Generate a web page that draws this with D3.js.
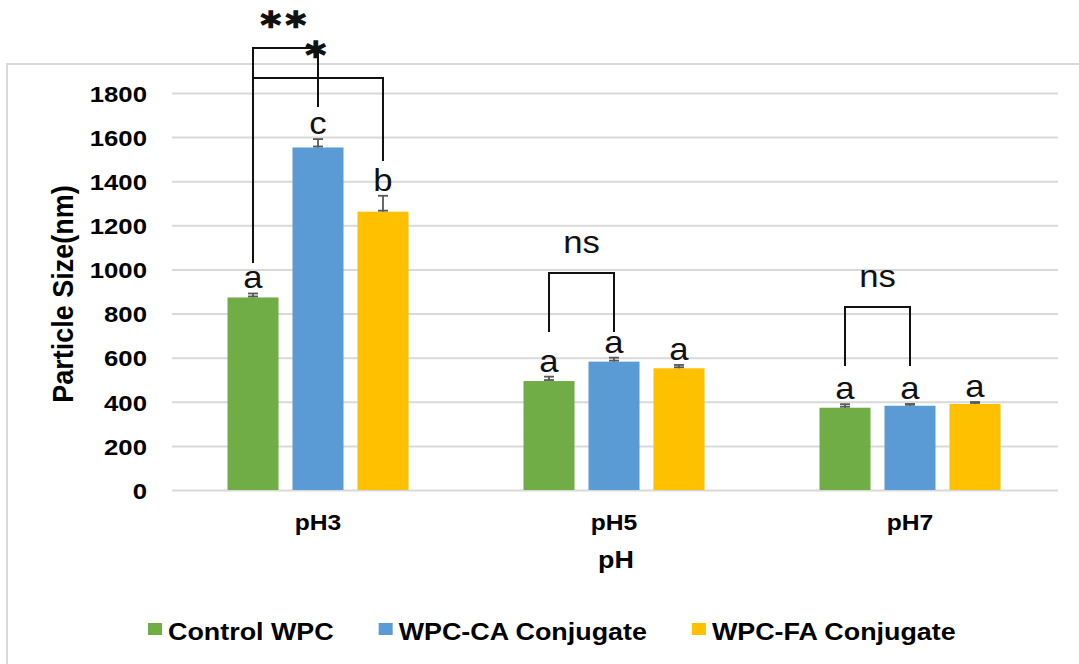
<!DOCTYPE html>
<html>
<head>
<meta charset="utf-8">
<script src="https://cdn.jsdelivr.net/npm/d3@7"></script>
<style>
  html, body { margin: 0; padding: 0; background: #ffffff; }
  svg { display: block; font-family: "Liberation Sans", Arial, sans-serif; }
</style>
</head>
<body>
<svg id="chart" width="1079" height="664"></svg>
<script>
// ---- data ----
const categories = ["pH3", "pH5", "pH7"];
const seriesNames = ["Control WPC", "WPC-CA Conjugate", "WPC-FA Conjugate"];
const controlWPC = [873, 494, 373];
const wpcCA = [1553, 582, 382];
const wpcFA = [1262, 552, 390];
const controlErr = [18, 20, 16];
const wpcCAErr = [38, 18, 8];
const wpcFAErr = [72, 15, 9];
const controlLetters = ["a", "a", "a"];
const wpcCALetters = ["c", "a", "a"];
const wpcFALetters = ["b", "a", "a"];
const yTicks = [0, 200, 400, 600, 800, 1000, 1200, 1400, 1600, 1800];
// significance brackets: group, series indices, bar level, leg ends (nm scale)
const bracketGroups = ["pH3", "pH3", "pH5", "pH7"];
const bracketPairs = [[0, 1], [0, 2], [0, 1], [0, 1]];
const bracketTops = [2004, 1868, 984, 830];
const bracketLegs = [[1029, 1737], [1029, 1492], [716, 716], [562, 562]];
const bracketLabels = ["**", "*", "ns", "ns"];

const colors = ["#70AD47", "#5B9BD5", "#FFC000"];
const SX = 1.12; // horizontal text stretch

const values = [controlWPC, wpcCA, wpcFA];
const errs = [controlErr, wpcCAErr, wpcFAErr];
const letters = [controlLetters, wpcCALetters, wpcFALetters];

const rows = [];
categories.forEach((c, ci) => {
  seriesNames.forEach((s, si) => {
    rows.push({cat: c, series: s, si, value: values[si][ci], err: errs[si][ci], letter: letters[si][ci]});
  });
});

const svg = d3.select("#chart");

// outer frame
svg.append("rect")
  .attr("x", 7).attr("y", 64).attr("width", 1100).attr("height", 700)
  .attr("fill", "none").attr("stroke", "#d9d9d9").attr("stroke-width", 2);

const plotLeft = 170, plotRight = 1058;
const y = d3.scaleLinear().domain([0, 1800]).range([490, 93]);
const x0 = d3.scaleBand().domain(categories).range([plotLeft, plotRight]).padding(0);
const groupW = 181;
const x1 = d3.scaleBand().domain(seriesNames).range([-groupW / 2, groupW / 2]).paddingInner(0.215);
const cx = (cat, si) => x0(cat) + x0.bandwidth() / 2 + x1(seriesNames[si]) + x1.bandwidth() / 2;

// gridlines + y labels
const yAxis = svg.append("g")
  .attr("transform", `translate(${plotLeft + 2},0)`)
  .call(d3.axisLeft(y).tickValues(yTicks).tickFormat(d3.format("d"))
    .tickSize(-(plotRight - plotLeft - 2)).tickPadding(0));
yAxis.select(".domain").remove();
yAxis.selectAll(".tick line").attr("stroke", "#d9d9d9").attr("stroke-width", 2);
yAxis.selectAll(".tick text")
  .attr("x", 0).attr("dy", "0.36em")
  .attr("transform", `translate(-25,0) scale(${SX},1)`)
  .attr("text-anchor", "end")
  .attr("fill", "#000")
  .style("font-size", "23px").style("font-weight", "bold")
  .style("font-family", "'Liberation Sans', Arial, sans-serif");

// bars
svg.append("g").selectAll("rect").data(rows).join("rect")
  .attr("x", d => x0(d.cat) + x0.bandwidth() / 2 + x1(d.series))
  .attr("width", x1.bandwidth())
  .attr("y", d => y(d.value))
  .attr("height", d => y(0) - y(d.value))
  .attr("fill", d => colors[d.si]);

// error bars (positive direction)
const eg = svg.append("g").attr("stroke", "#595959").attr("stroke-width", 1.8);
rows.forEach(d => {
  const c = cx(d.cat, d.si);
  eg.append("line").attr("x1", c).attr("x2", c).attr("y1", y(d.value)).attr("y2", y(d.value + d.err));
  eg.append("line").attr("x1", c - 5).attr("x2", c + 5).attr("y1", y(d.value + d.err)).attr("y2", y(d.value + d.err));
  eg.append("line").attr("x1", c - 5).attr("x2", c + 5).attr("y1", y(d.value) - 1).attr("y2", y(d.value) - 1);
});

// letter labels
svg.append("g").selectAll("text").data(rows).join("text")
  .attr("transform", d => `translate(${cx(d.cat, d.si)},${y(d.value + d.err) - 5}) scale(${SX},1)`)
  .attr("text-anchor", "middle")
  .style("font-size", "31px")
  .attr("fill", "#111")
  .text(d => d.letter);

// x axis labels
const xAxis = svg.append("g").attr("transform", "translate(0,490)")
  .call(d3.axisBottom(x0).tickSize(0));
xAxis.select(".domain").remove();
xAxis.selectAll(".tick text")
  .attr("y", 0).attr("dy", 0)
  .attr("transform", `translate(0,40) scale(${SX},1)`)
  .attr("fill", "#000")
  .style("font-size", "22px").style("font-weight", "bold")
  .style("font-family", "'Liberation Sans', Arial, sans-serif");

// axis titles
svg.append("text")
  .attr("transform", `translate(${(plotLeft + plotRight) / 2 + 2},568) scale(${SX},1)`)
  .attr("text-anchor", "middle")
  .style("font-size", "24px").style("font-weight", "bold")
  .text("pH");

svg.append("text")
  .attr("transform", `translate(73,294) scale(${SX},1) rotate(-90)`)
  .attr("text-anchor", "middle")
  .style("font-size", "27px").style("font-weight", "bold")
  .text("Particle Size(nm)");

// significance brackets
const bg = svg.append("g");
bracketLabels.forEach((lab, i) => {
  const g = bracketGroups[i];
  const xa = cx(g, bracketPairs[i][0]);
  const xb = cx(g, bracketPairs[i][1]);
  const yt = y(bracketTops[i]);
  bg.append("path")
    .attr("d", `M${xa},${y(bracketLegs[i][0])}V${yt}H${xb}V${y(bracketLegs[i][1])}`)
    .attr("fill", "none").attr("stroke", "#111").attr("stroke-width", 2);
  const isStar = lab.indexOf("*") >= 0;
  const t = bg.append("text")
    .attr("transform", `translate(${(xa + xb) / 2},${isStar ? yt - 11 : yt - 20}) scale(${SX},1)`)
    .attr("text-anchor", "middle")
    .style("font-size", isStar ? "35px" : "31px")
    .style("font-weight", isStar ? "bold" : "normal")
    .style("font-family", isStar ? "'DejaVu Sans', sans-serif" : "'Liberation Sans', Arial, sans-serif")
    .style("letter-spacing", isStar ? "4px" : "0px")
    .attr("fill", "#111")
    .text(lab);
  if (isStar) t.attr("stroke", "#111").attr("stroke-width", 1.3);
});

// legend
const lg = svg.append("g");
let lx = 148;
seriesNames.forEach((s, i) => {
  lg.append("rect").attr("x", lx).attr("y", 623).attr("width", 14).attr("height", 12).attr("fill", colors[i]);
  const t = lg.append("text")
    .attr("transform", `translate(${lx + 20},640) scale(${SX},1)`)
    .style("font-size", "24px").style("font-weight", "bold")
    .text(s);
  lx += 20 + t.node().getComputedTextLength() * SX + 45;
});
</script>
</body>
</html>
